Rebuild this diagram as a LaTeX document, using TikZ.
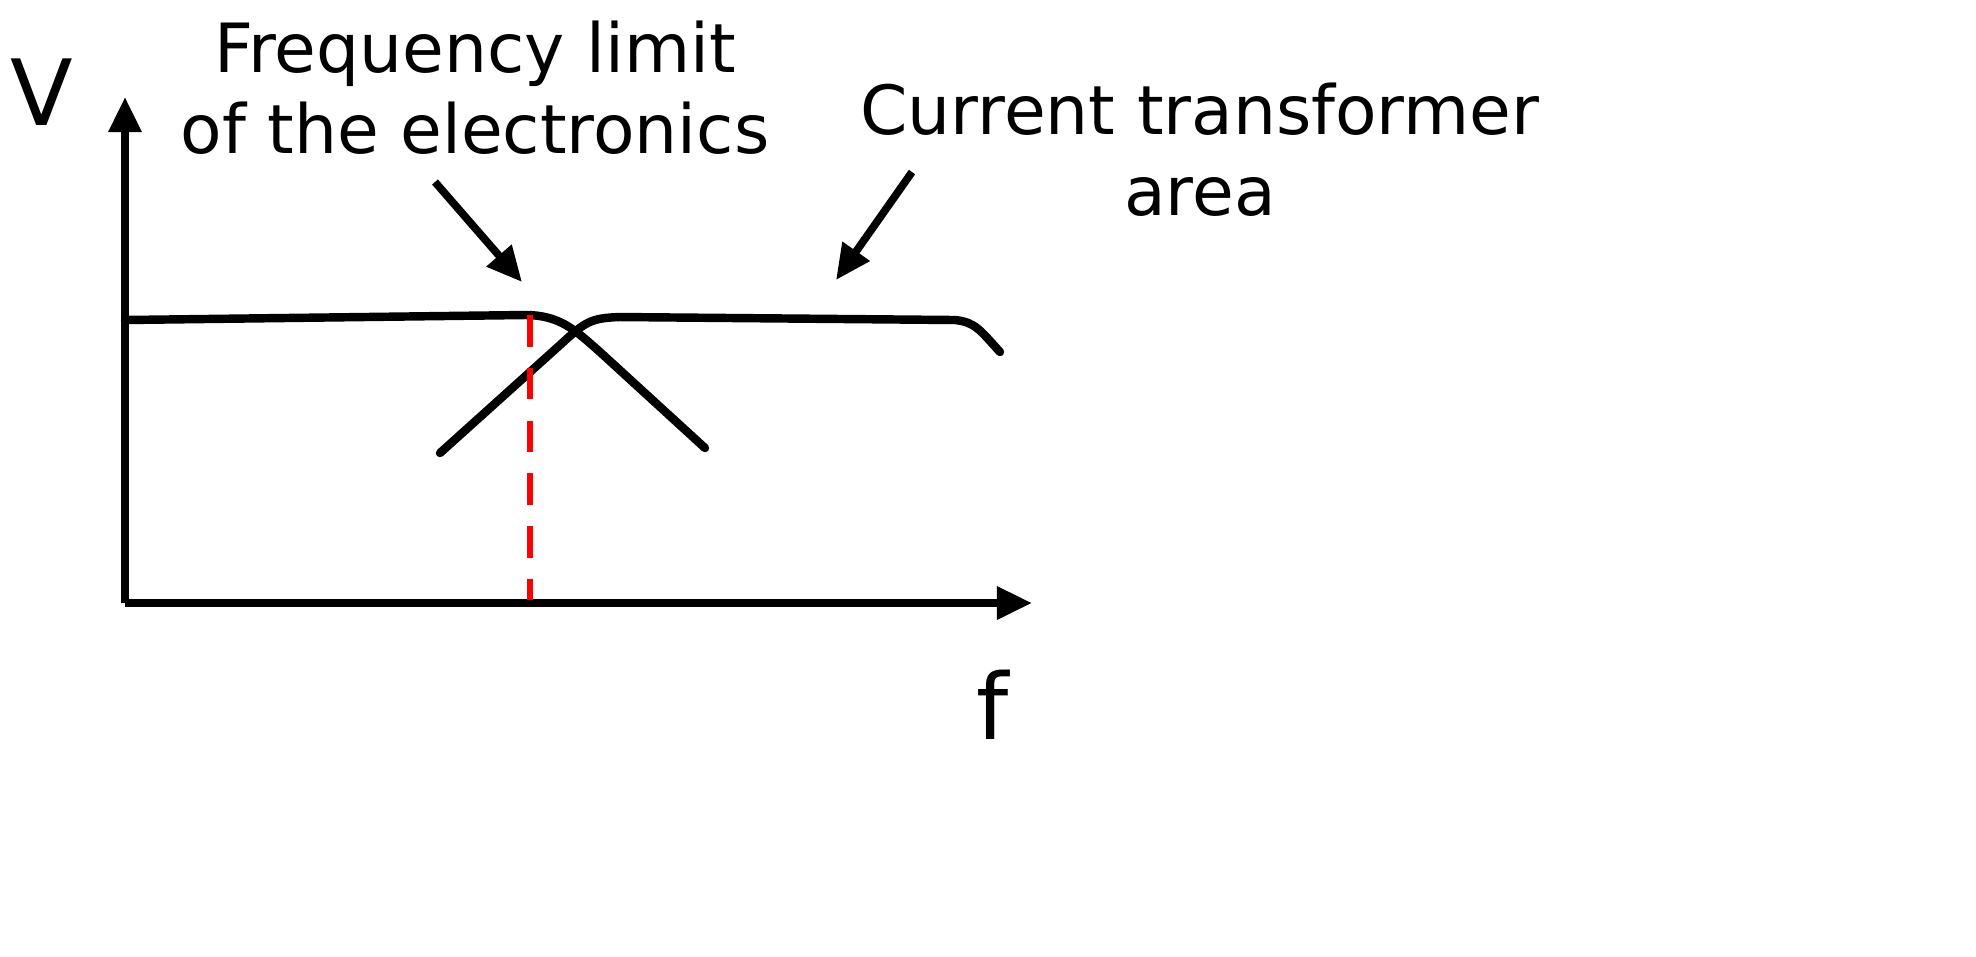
\documentclass[tikz,border=0pt]{standalone}
\usepackage{fontspec}
\setmainfont{DejaVu Sans}
\usetikzlibrary{arrows.meta}
\begin{document}
\begin{tikzpicture}[x=0.01cm,y=-0.01cm,
  curve/.style={line width=2.4pt,line cap=round},
  lbl/.style={font=\fontsize{19.3}{23}\selectfont,align=center,inner sep=0pt},
  ax/.style={line width=2.2pt,-{Triangle[length=10pt,width=9pt]}}]
\useasboundingbox (0,0) rectangle (1976,956);
\coordinate (o) at (125,603);
\coordinate (ytop) at (125,97);
\coordinate (xend) at (1032,603);
\draw[ax] (o) -- (ytop);
\draw[ax] (o) -- (xend);
\node[lbl,font=\fontsize{26}{30}\selectfont] (V) at (42,92) {V};
\node[lbl,font=\fontsize{26}{30}\selectfont] (f) at (993,705) {f};
\draw[curve] (125,320) -- (525,315) .. controls (560,315) and (575,330) .. (600,352) -- (705,448);
\draw[curve] (440,453) -- (560,345) .. controls (585,322) and (590,318) .. (620,317) -- (955,320) .. controls (975,322) and (980,330) .. (1000,352);
\draw[red,line width=1.6pt,dash pattern=on 9pt off 6pt] (530,315) -- (530,600);
\node[lbl] (t1) at (475,88) {Frequency limit\\of the electronics};
\node[lbl] (t2) at (1200,150) {Current transformer\\area};
\coordinate (a1s) at (435,182);
\coordinate (a1e) at (522,282);
\coordinate (a2s) at (912,172);
\coordinate (a2e) at (836,280);
\draw[ax] (a1s) -- (a1e);
\draw[ax] (a2s) -- (a2e);
\end{tikzpicture}
\end{document}
